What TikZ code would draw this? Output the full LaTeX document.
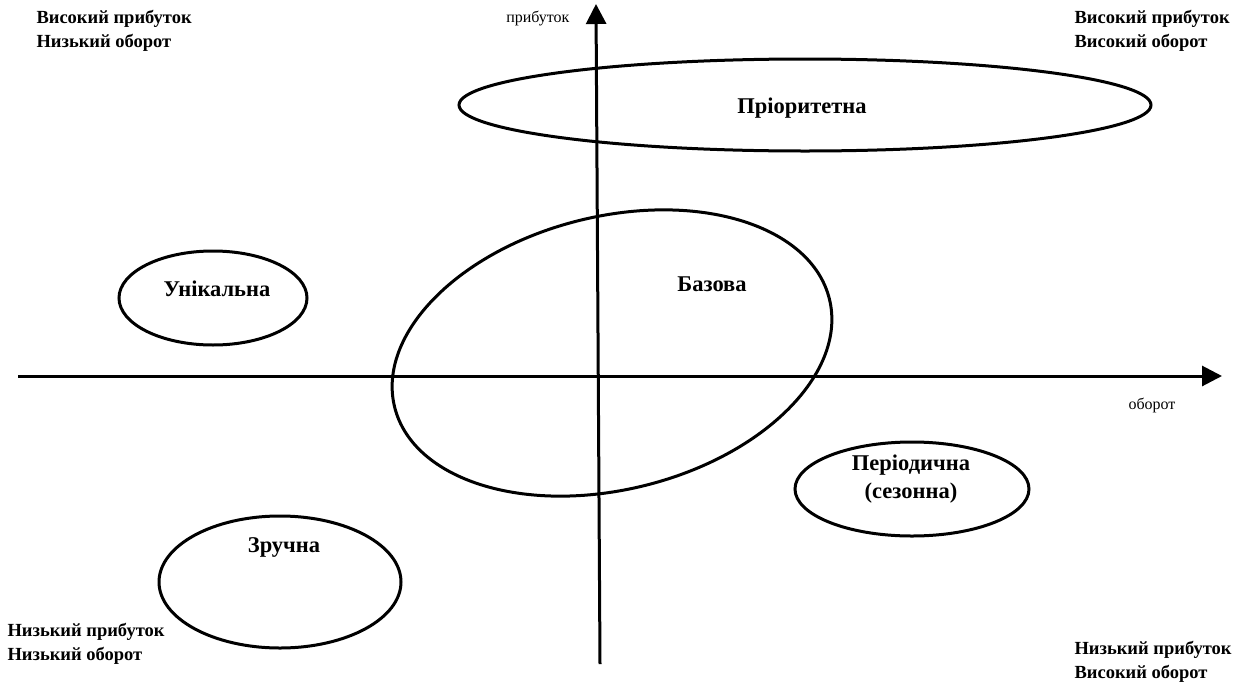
\documentclass[tikz,border=0pt]{standalone}
\usepackage{fontspec}
\setmainfont{Liberation Serif}
\usetikzlibrary{arrows.meta,shapes.geometric}

\begin{document}
\begin{tikzpicture}[
		x=1pt, y=-1pt,
		axis/.style={line width=3pt, -{Triangle[length=20pt, width=20pt]}},
		zone/.style={ellipse, draw, line width=3pt, inner sep=0pt},
		zonetext/.style={font=\bfseries\fontsize{22.5}{28}\selectfont, align=center},
		corner/.style={font=\bfseries\fontsize{18.5}{24}\selectfont, align=left, anchor=west},
		axlabel/.style={font=\fontsize{16}{18}\selectfont}
	]
  \useasboundingbox (0,0) rectangle (1253,683);
  % axes
  \coordinate (x_s) at (18,376);
  \coordinate (x_e) at (1222,376);
  \coordinate (y_s) at (600,664);
  \coordinate (y_e) at (596,4);
  \draw[axis] (x_s) -- (x_e);
  \draw[axis] (y_s) -- (y_e);
  \node (y_label) [axlabel, anchor=east] at (573,18) {прибуток};
  \node (x_label) [axlabel] at (1152,405) {оборот};
  % zones
  \node (prior) [zone, minimum width=692pt, minimum height=92pt] at (805,105) {};
  \node (base) [zone, minimum width=448pt, minimum height=273pt, rotate=14] at (612,353) {};
  \node (unique) [zone, minimum width=188pt, minimum height=94pt] at (213,298) {};
  \node (handy) [zone, minimum width=242pt, minimum height=132pt] at (280,582) {};
  \node (period) [zone, minimum width=234pt, minimum height=94pt] at (912,489) {};
  \node (prior_t) [zonetext] at (802,108) {Пріоритетна};
  \node (base_t) [zonetext] at (712,284) {Базова};
  \node (unique_t) [zonetext] at (217,289) {Унікальна};
  \node (handy_t) [zonetext] at (284,547) {Зручна};
  \node (period_t) [zonetext] at (911,479) {Періодична\\(сезонна)};
  % corners
  \node (tl) [corner] at (33,31) {Високий прибуток\\Низький оборот};
  \node (tr) [corner] at (1071,31) {Високий прибуток\\Високий оборот};
  \node (bl) [corner] at (4,644) {Низький прибуток\\Низький оборот};
  \node (br) [corner] at (1071,662) {Низький прибуток\\Високий оборот};
\end{tikzpicture}
\end{document}
